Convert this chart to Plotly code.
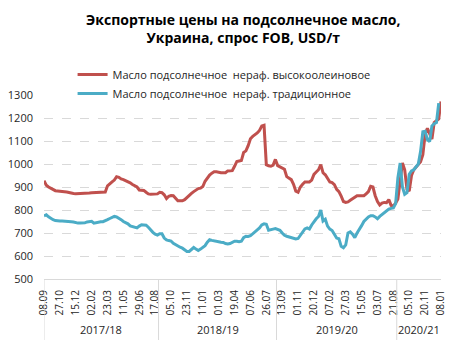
import plotly.graph_objects as go

high_oleic = [927, 908, 900, 895, 890, 884, 883, 882, 882, 882,
              878, 876, 873, 872, 871, 871, 871, 871, 872, 872,
              874, 875, 875, 875, 875, 875, 875, 878, 905, 915,
              922, 930, 945, 942, 935, 932, 928, 924, 918, 911,
              905, 900, 887, 885, 885, 877, 870, 868, 868, 867,
              870, 877, 875, 866, 850, 860, 863, 862, 850, 840,
              840, 840, 845, 855, 862, 872, 880, 888, 893, 895,
              902, 925, 940, 952, 960, 966, 966, 963, 962, 962,
              962, 970, 971, 971, 990, 1011, 1013, 1015, 1050, 1057,
              1080, 1110, 1120, 1127, 1135, 1146, 1165, 1168, 997, 992,
              990, 995, 1020, 993, 988, 983, 977, 945, 938, 932,
              912, 882, 877, 900, 912, 922, 922, 922, 930, 955,
              965, 975, 997, 962, 953, 935, 922, 919, 910, 890,
              880, 860, 837, 833, 835, 842, 848, 855, 862, 862,
              862, 862, 870, 880, 903, 900, 862, 837, 822, 830,
              833, 832, 845, 820, 818, 830, 848, 930, 1005, 975,
              890, 882, 950, 975, 987, 995, 1010, 1040, 1130, 1155,
              1135, 1108, 1180, 1188, 1196, 1272]

traditional = [775, 779, 770, 763, 758, 754, 752, 752, 752, 752,
               750, 749, 749, 748, 745, 743, 743, 743, 744, 748,
               750, 751, 743, 746, 748, 749, 749, 752, 758, 763,
               768, 772, 770, 765, 758, 750, 745, 740, 731, 727,
               724, 722, 730, 736, 735, 734, 725, 712, 703, 695,
               691, 697, 697, 678, 670, 667, 665, 655, 648, 643,
               638, 634, 628, 620, 620, 630, 637, 630, 624, 630,
               638, 645, 660, 671, 668, 665, 662, 662, 660, 659,
               654, 652, 654, 660, 664, 664, 662, 664, 680, 686,
               685, 688, 698, 705, 714, 722, 735, 740, 738, 712,
               713, 717, 719, 717, 712, 700, 690, 686, 683, 678,
               675, 674, 676, 692, 705, 718, 722, 717, 735, 750,
               762, 772, 800, 752, 760, 730, 717, 711, 695, 678,
               675, 642, 636, 648, 700, 705, 695, 680, 700, 714,
               732, 750, 760, 770, 775, 775, 770, 762, 772, 780,
               790, 800, 804, 807, 809, 828, 940, 1004, 900, 868,
               875, 955, 970, 975, 990, 1000, 1055, 1140, 1142, 1106,
               1098, 1165, 1175, 1180, 1265]

tick_labels = ["08.09", "27.10", "15.12", "02.02", "23.03", "11.05", "29.06", "17.08",
               "05.10", "23.11", "11.01", "01.03", "19.04", "07.06", "26.07",
               "13.09", "01.11", "20.12", "07.02", "27.03", "15.05", "03.07", "21.08",
               "05.10", "20.11", "08.01"]
seasons = ["2017/18", "2018/19", "2019/20", "2020/21"]
season_bounds = [0, 50.5, 102.5, 155.5, 175]

title_text = "Экспортные цены на подсолнечное масло,<br>Украина, спрос FOB, USD/т"
name_high = "Масло подсолнечное  нераф. высокоолеиновое"
name_trad = "Масло подсолнечное  нераф. традиционное"

n = len(high_oleic)
x = list(range(n))
tickvals = list(range(0, n, 7))

FONT = "Open Sans"
TXT = "#262626"

fig = go.Figure()
fig.add_trace(go.Scatter(x=x, y=high_oleic, mode="lines", name=name_high,
                         line=dict(color="#c0504d", width=3)))
fig.add_trace(go.Scatter(x=x, y=traditional, mode="lines", name=name_trad,
                         line=dict(color="#4bacc6", width=3)))

shapes = []
for b in season_bounds[:-1]:
    shapes.append(dict(type="line", xref="x", yref="paper", x0=b, x1=b,
                       y0=-0.34, y1=0, line=dict(color="#d9d9d9", width=1)))
annotations = []
for i, s in enumerate(seasons):
    c = (season_bounds[i] + season_bounds[i + 1]) / 2
    annotations.append(dict(x=c, xref="x", y=-0.275, yref="paper", text=s,
                            showarrow=False, yanchor="middle",
                            font=dict(family=FONT, size=11, color=TXT)))
annotations.append(dict(x=0.5, xref="paper", y=1.36, yref="paper",
                        text="<b>" + title_text.replace("<br>", "</b><br><b>") + "</b>",
                        showarrow=False, xanchor="center", yanchor="middle",
                        align="center",
                        font=dict(family=FONT, size=14, color="#000000")))

fig.update_layout(
    width=455, height=340,
    margin=dict(l=39, r=8, t=95, b=61),
    paper_bgcolor="white", plot_bgcolor="white",
    legend=dict(x=0.072, xanchor="left", y=1.19, yanchor="top",
                bgcolor="rgba(0,0,0,0)", font=dict(family=FONT, size=11, color=TXT),
                tracegroupgap=0, itemwidth=30),
    showlegend=True,
    shapes=shapes,
    annotations=annotations,
    xaxis=dict(range=[0, n - 1], tickvals=tickvals, ticktext=tick_labels,
               tickangle=-90, tickfont=dict(family=FONT, size=10, color=TXT),
               showgrid=False, zeroline=False, showline=True, linecolor="#d9d9d9",
               linewidth=1, ticks="", ticklabelstandoff=6),
    yaxis=dict(range=[500, 1300], dtick=100, tick0=500,
               tickfont=dict(family=FONT, size=11, color=TXT),
               showgrid=True, gridcolor="#d9d9d9", griddash="dash", gridwidth=1,
               zeroline=False, showline=False, ticks="", ticklabelstandoff=10),
)

fig.write_html("out.html")
